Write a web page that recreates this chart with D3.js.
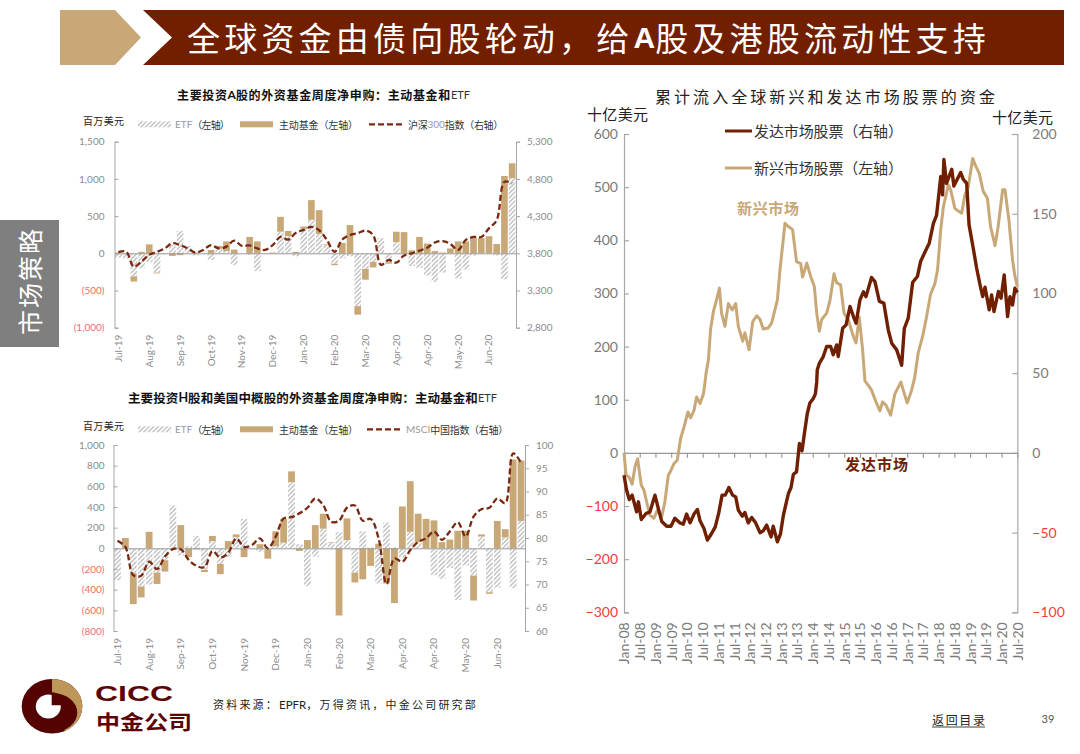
<!DOCTYPE html>
<html>
<head>
<meta charset="utf-8">
<script src="https://cdn.jsdelivr.net/npm/d3@7"></script>
<style>
  body { margin: 0; background: #fff; }
  svg { display: block; }
  text { font-family: "Noto Sans CJK SC", sans-serif; }
  .num text, text.num { font-family: Lato, "Open Sans", sans-serif; }
</style>
</head>
<body>
<svg id="page" width="1080" height="754"></svg>
<script>
// weekly flows, chart A (USD mn)
const aEtf = [-60,-70,-310,-200,-120,-260,-10,110,300,100,-30,0,-90,60,30,-160,0,-20,-240,0,0,290,230,-40,330,450,260,110,-140,-70,-40,-710,-210,-115,205,-120,150,0,-170,-195,-300,-385,-260,0,-340,-220,-30,0,0,-30,-350,1010];
const aActive = [10,0,-70,20,120,-10,0,-35,-25,0,10,0,45,40,130,50,0,220,160,0,10,200,70,20,30,265,320,10,-20,140,380,-115,-145,-75,0,-20,140,285,40,220,130,30,10,65,160,160,220,205,230,125,1040,200];
const aIndex = [3815,3825,3620,3690,3780,3820,3865,3935,3910,3865,3810,3845,3910,3865,3890,3970,3900,3905,3865,3845,3910,4020,3985,4075,4115,4155,4110,3980,3820,3985,4045,4070,4105,4045,3645,3710,3675,3770,3800,3835,3875,3945,3965,3925,3845,3980,4020,4020,4135,4245,4760,4740];

// weekly flows, chart H (USD mn)
const hEtf = [-310,0,-240,-370,-350,-235,-115,415,-70,20,120,-210,70,-150,-85,110,285,5,-35,-10,20,55,640,40,-365,-80,190,55,155,80,-235,165,10,-340,250,10,-90,160,60,0,-260,-295,-190,-500,-165,-265,115,-425,-380,105,-385,265];
const hActive = [0,100,-300,-105,160,-110,-110,0,225,-85,-10,-20,50,-100,70,25,-85,0,40,-90,145,230,105,-25,80,225,145,5,-650,210,-95,-300,-170,45,-340,-530,405,490,275,285,270,60,85,170,170,-240,20,-15,265,80,860,585];
const hIndex = [79.4,78.1,72.0,71.9,74.9,73.3,76.0,77.6,77.6,75.3,74.0,73.7,77.2,75.8,76.8,79.9,78.1,78.5,79.9,77.8,80.3,84.2,84.5,85.3,86.5,88.5,87.1,83.5,83.7,86.5,87.0,83.7,84.1,79.9,70.1,75.6,74.9,77.4,79.2,79.9,81.4,79.6,81.4,83.4,80.3,84.6,86.2,86.5,88.5,87.5,98.2,96.2];

const weekLabels = ['Jul-19','Aug-19','Sep-19','Oct-19','Nov-19','Dec-19','Jan-20','Feb-20','Mar-20','Apr-20','Apr-20','May-20','Jun-20'];

// cumulative flows, months since Jan-08 / USD bn
const emMonths = [0,0.8,2.0,3.1,4.2,5.2,5.8,6.6,7.6,8.9,9.9,11.4,12.7,14.4,15.6,16.9,17.9,19.1,20.3,21.6,22.9,24.4,25.4,26.7,27.7,29.0,30.3,30.9,31.3,32.2,33.0,34.1,35.3,36.4,37.2,38.5,39.8,41.3,42.6,43.6,45.3,46.1,47.7,49.1,50.6,51.9,53.1,55.0,56.3,58.5,59.5,61.4,62.7,64.3,65.8,67.4,68.1,69.7,71.2,72.6,73.5,74.5,75.4,77.3,78.6,80.1,81.1,82.6,83.9,85.5,87.5,88.5,89.7,91.0,91.9,93.2,94.4,96.1,97.6,98.6,99.9,101.7,103.3,105.6,106.5,108.0,109.7,110.8,112.2,113.9,115.2,116.9,118.6,119.6,120.8,121.8,123.7,124.6,126.2,127.5,128.8,130.0,131.3,133.0,134.2,135.5,137.0,138.6,139.8,141.5,142.7,144.4,145.3,146.8,148.2,149.1,150];
const emValues = [0,-42,-46,-59,-26,-11,-33,-61,-70,-98,-117,-123,-108,-120,-92,-42,-33,-20,-14,27,49,77,66,80,105,93,111,133,150,175,232,266,288,310,263,238,281,269,281,238,210,226,194,247,258,251,233,235,244,288,345,432,426,420,360,356,331,357,332,313,263,229,251,263,288,337,320,316,263,251,219,207,256,194,135,127,118,96,79,96,90,71,111,133,118,94,118,140,188,219,251,298,319,345,420,463,504,495,460,455,451,485,501,554,539,526,492,479,426,390,426,495,495,438,363,332,313];
const dmMonths = [0,1.0,2.0,3.1,4.3,4.8,5.5,6.6,8.4,9.9,11.8,13.1,14.4,16.3,17.9,19.4,21.4,22.6,23.9,25.2,26.7,28.0,29.0,30.5,31.8,33.4,34.8,36.1,37.4,38.6,40.0,41.4,42.6,43.6,45.1,46.1,47.4,48.7,50.2,51.9,53.1,54.4,56.1,56.9,58.5,59.7,60.8,61.8,62.7,63.7,64.6,65.8,66.9,67.9,68.8,69.9,70.9,72.2,73.0,73.5,73.7,74.5,76.0,77.3,78.8,79.8,81.1,81.7,83.4,84.7,86.2,87.5,88.5,90.0,91.3,92.3,94.4,95.7,97.4,99.1,100.8,102.1,104.0,105.9,106.9,108.4,110.1,111.9,113.1,114.8,116.4,118.0,119.2,120.8,121.5,122.0,123.0,125.0,125.8,128.4,129.4,130.7,131.6,133.2,134.5,135.8,136.8,137.7,139.3,140.2,141.1,142.8,143.8,145.0,146.3,147.2,148.2,149.1,150];
const dmValues = [-14,-23.4,-29.3,-26.5,-33.8,-37,-30.7,-41.8,-38,-37,-26.5,-35,-43,-46,-46,-41,-44,-44.7,-38.4,-43.9,-38.4,-35.5,-42.6,-47.4,-54.7,-50.6,-46.4,-38,-26.5,-26.5,-21.7,-26.5,-27.6,-35.9,-39.7,-37.4,-43.9,-40.5,-43.9,-50.1,-48.9,-45.3,-52.7,-46,-55.8,-50.6,-39,-31.8,-25.5,-21.7,-13.4,-11.9,5.9,1.3,12.1,24.7,31.3,34.1,37,44.5,52,56.2,60.4,66.7,66.7,61.5,67.7,60.4,78.2,80.3,91.8,85.5,81.3,96,101,98,110,107.4,95,93.9,77,68.8,64.6,55,78,84.5,107,110.6,120,126,131.5,144,149,173.3,161.8,184,169,177.9,167.4,175.8,171.6,169,143,128.3,115.8,105.3,98,103.9,89.7,99,88.6,101.2,97,111.6,85.5,98,92.8,103.3,100.5];
const halfYearLabels = ['Jan-08','Jul-08','Jan-09','Jul-09','Jan-10','Jul-10','Jan-11','Jul-11','Jan-12','Jul-12','Jan-13','Jul-13','Jan-14','Jul-14','Jan-15','Jul-15','Jan-16','Jul-16','Jan-17','Jul-17','Jan-18','Jul-18','Jan-19','Jul-19','Jan-20','Jul-20'];

const DARK = '#701f00', TAN = '#c9a877', GREY = '#8c8c8c', AXIS = '#a6a6a6', RED = '#f26d6d', MAROON = '#540202';
// full width punctuation
const COMMA = '\uFF0C', COLON = '\uFF1A', LP = '\uFF08', RP = '\uFF09';

const svg = d3.select('#page');
const defs = svg.append('defs');
defs.append('pattern')
    .attr('id', 'hatch').attr('width', 3.2).attr('height', 3.2)
    .attr('patternUnits', 'userSpaceOnUse').attr('patternTransform', 'rotate(45)')
    .call(p => p.append('rect').attr('width', 3.2).attr('height', 3.2).attr('fill', '#fff'))
    .call(p => p.append('rect').attr('width', 1.5).attr('height', 3.2).attr('fill', '#c4c4c4'));

function label(x, y, str, size, opts = {}) {
    const t = svg.append('text')
        .attr('x', x).attr('y', y)
        .attr('dominant-baseline', 'central')
        .attr('font-size', size)
        .attr('fill', opts.fill || '#222')
        .attr('font-weight', opts.weight || 400)
        .attr('text-anchor', opts.anchor || 'start')
        .text(str);
    if (opts.len) t.attr('textLength', opts.len).attr('lengthAdjust', opts.adjust || 'spacing');
    return t;
}

// CJK runs get the spacing that makes the text fit opts.width, latin runs stay tight
function mixed(x, y, parts, size, opts = {}) {
    const t = label(x, y, '', size, opts);
    const cjk = [];
    let count = 0;
    parts.forEach(p => {
        const sp = t.append('tspan').text(p.s);
        if (p.fill) sp.attr('fill', p.fill);
        if (p.latin) {
            sp.style('font-family', p.latin).attr('font-weight', p.weight || 400);
            if (p.size) sp.attr('font-size', p.size);
        } else {
            cjk.push(sp);
            count += p.s.length;
        }
    });
    if (opts.width) {
        const gap = (opts.width - t.node().getComputedTextLength()) / count;
        cjk.forEach(sp => sp.attr('letter-spacing', gap));
    }
    return t;
}

// header
svg.append('path').attr('d', 'M60,10H115L141,37.5L115,65H60Z').attr('fill', TAN);
svg.append('path').attr('d', 'M143,10H1064V65H143L172,37.5Z').attr('fill', '#721f00');
mixed(187, 37, [
    { s: '全球资金由债向股轮动' + COMMA + '给' },
    { s: 'A', latin: '"Liberation Sans"', weight: 700, size: 30 },
    { s: '股及港股流动性支持' }
], 33, { fill: '#fff', width: 803 });

// side tab
svg.append('rect').attr('x', 0).attr('y', 220).attr('width', 59).attr('height', 127).attr('fill', '#7f7f7f');
label(0, 0, '市场策略', 25, { fill: '#fff', anchor: 'middle', len: 106 })
    .attr('transform', 'translate(29,282) rotate(-90)');

// two small combo charts share this
function drawCombo(c) {
    const g = svg.append('g');
    const x = d3.scaleBand().domain(d3.range(c.etf.length)).range([c.left, c.right]).paddingInner(0.14).paddingOuter(0.07);
    const yL = d3.scaleLinear().domain(c.leftDomain).range([c.bottom, c.top]);
    const yR = d3.scaleLinear().domain(c.rightDomain).range([c.bottom, c.top]);

    const rows = c.etf.map((d, i) => ({ i, etf: d, active: c.active[i] }));
    const stack = d3.stack().keys(['etf', 'active']).offset(d3.stackOffsetDiverging)(rows);
    const fills = { etf: 'url(#hatch)', active: TAN };

    stack.forEach(layer => {
        g.append('g').selectAll('rect').data(layer).enter().append('rect')
            .attr('x', d => x(d.data.i))
            .attr('width', x.bandwidth())
            .attr('y', d => yL(Math.max(d[0], d[1])))
            .attr('height', d => Math.abs(yL(d[0]) - yL(d[1])))
            .attr('fill', fills[layer.key]);
    });

    const fmt = d => d < 0 ? '(' + d3.format(',')(-d) + ')' : d3.format(',')(d);

    const left = g.append('g').attr('class', 'num')
        .attr('transform', `translate(${c.left},0)`)
        .call(d3.axisLeft(yL).tickValues(c.leftTicks).tickFormat(fmt).tickSize(-4).tickPadding(c.padL));
    const right = g.append('g').attr('class', 'num')
        .attr('transform', `translate(${c.right},0)`)
        .call(d3.axisRight(yR).tickValues(c.rightTicks).tickFormat(c.rightFormat).tickSize(4).tickPadding(7));
    const zero = g.append('g')
        .attr('transform', `translate(0,${yL(0)})`)
        .call(d3.axisBottom(x).tickValues([]).tickSize(0).tickSizeOuter(0));
    const bottom = g.append('g').attr('class', 'num')
        .attr('transform', `translate(0,${c.bottom})`)
        .call(d3.axisBottom(x)
            .tickValues(d3.range(0, c.etf.length, 4))
            .tickFormat((d, i) => weekLabels[i])
            .tickSize(0).tickPadding(7));
    bottom.select('.domain').remove();
    bottom.selectAll('text')
        .attr('transform', 'rotate(-90)')
        .attr('text-anchor', 'end')
        .attr('x', -7).attr('y', 0).attr('dy', '0.35em');

    [left, right, zero, bottom].forEach(a => {
        a.selectAll('.domain, line').attr('stroke', AXIS).attr('stroke-width', 1);
        a.selectAll('text').attr('font-size', 10).attr('fill', GREY);
    });
    zero.select('.domain').attr('stroke', '#999');
    left.selectAll('.tick').filter(d => d < 0).select('text').attr('fill', RED);

    const line = d3.line()
        .x((d, i) => x(i) + x.bandwidth() / 2)
        .y(d => yR(d))
        .curve(d3.curveCatmullRom.alpha(0.5));
    g.append('path').datum(c.index)
        .attr('d', line)
        .attr('fill', 'none')
        .attr('stroke', '#7a2810')
        .attr('stroke-width', 2.3)
        .attr('stroke-dasharray', '6 3');

    // titles and legend
    mixed(c.titleX, c.titleY, c.title, c.titleSize, { weight: 700, fill: '#111', width: c.titleWidth });
    label(83, c.legendY - 3.5, '百万美元', 10, { fill: '#222', len: 41 });
    const ly = c.legendY;
    g.append('rect').attr('x', 138).attr('y', ly - 3).attr('width', 33).attr('height', 6).attr('fill', 'url(#hatch)');
    mixed(175, ly, [{ s: 'ETF', latin: 'Lato', fill: '#999' }, { s: LP + '左轴' + RP, fill: '#333' }], 10, { width: 54 });
    g.append('rect').attr('x', 240).attr('y', ly - 3).attr('width', 33).attr('height', 6).attr('fill', TAN);
    label(279, ly, '主动基金' + LP + '左轴' + RP, 10, { fill: '#333', len: 79 });
    g.append('line').attr('x1', c.dashX).attr('x2', c.dashX + 33).attr('y1', ly).attr('y2', ly)
        .attr('stroke', '#7a2810').attr('stroke-width', 2.3).attr('stroke-dasharray', '6 3');
    mixed(c.dashX + 39, ly, c.indexParts, 10, { width: c.indexWidth });
}

drawCombo({
    etf: aEtf, active: aActive, index: aIndex,
    left: 114.5, right: 516, top: 141.7, bottom: 327.7,
    leftDomain: [-1000, 1500], rightDomain: [2800, 5300],
    leftTicks: [-1000, -500, 0, 500, 1000, 1500],
    rightTicks: [2800, 3300, 3800, 4300, 4800, 5300],
    rightFormat: d3.format(','), padL: 10,
    title: [{ s: '主要投资' }, { s: 'A', latin: 'Lato', weight: 700 }, { s: '股的外资基金周度净申购' + COLON + '主动基金和' }, { s: 'ETF', latin: 'Lato', size: 11, fill: '#333' }],
    titleX: 177, titleY: 93.5, titleSize: 12, titleWidth: 293,
    legendY: 124.3, dashX: 369, indexWidth: 95,
    indexParts: [{ s: '沪深', fill: '#333' }, { s: '300', latin: 'Lato', fill: '#999' }, { s: '指数' + LP + '右轴' + RP, fill: '#333' }]
});

drawCombo({
    etf: hEtf, active: hActive, index: hIndex,
    left: 113.5, right: 525, top: 445, bottom: 631,
    leftDomain: [-800, 1000], rightDomain: [60, 100],
    leftTicks: [-800, -600, -400, -200, 0, 200, 400, 600, 800, 1000],
    rightTicks: [60, 65, 70, 75, 80, 85, 90, 95, 100],
    rightFormat: d3.format('d'), padL: 9,
    title: [{ s: '主要投资' }, { s: 'H', latin: 'Lato', weight: 700 }, { s: '股和美国中概股的外资基金周度净申购' + COLON + '主动基金和' }, { s: 'ETF', latin: 'Lato', size: 11, fill: '#333' }],
    titleX: 128, titleY: 397, titleSize: 12.5, titleWidth: 369,
    legendY: 429.3, dashX: 367, indexWidth: 102,
    indexParts: [{ s: 'MSCI', latin: 'Lato', fill: '#999' }, { s: '中国指数' + LP + '右轴' + RP, fill: '#333' }]
});

// cumulative flow chart
const bigL = 624, bigR = 1017.3, bigT = 134, bigB = 612.3;
const xBig = d3.scaleLinear().domain([0, 150]).range([bigL, bigR]);
const yEm = d3.scaleLinear().domain([-300, 600]).range([bigB, bigT]);
const yDm = d3.scaleLinear().domain([-100, 200]).range([bigB, bigT]);

const bigLeft = svg.append('g').attr('class', 'num').attr('transform', `translate(${bigL},0)`)
    .call(d3.axisLeft(yEm).tickValues(d3.range(-300, 601, 100)).tickFormat(d3.format('d')).tickSize(-5).tickPadding(6));
const bigRight = svg.append('g').attr('class', 'num').attr('transform', `translate(${bigR},0)`)
    .call(d3.axisRight(yDm).tickValues(d3.range(-100, 201, 50)).tickFormat(d3.format('d')).tickSize(-5).tickPadding(15));
const bigZero = svg.append('g').attr('transform', `translate(0,${yEm(0)})`)
    .call(d3.axisBottom(xBig).tickValues(d3.range(0, 151, 6)).tickFormat('').tickSize(5).tickSizeOuter(0));
const bigBottom = svg.append('g').attr('class', 'num').attr('transform', `translate(0,${bigB})`)
    .call(d3.axisBottom(xBig).tickValues(d3.range(0, 151, 6)).tickFormat((d, i) => halfYearLabels[i]).tickSize(0));
bigBottom.select('.domain').remove();
bigBottom.selectAll('text')
    .attr('transform', 'rotate(-90)')
    .attr('text-anchor', 'end')
    .attr('x', -10).attr('y', 0).attr('dy', '0.35em');

[bigLeft, bigRight, bigZero, bigBottom].forEach(a => {
    a.selectAll('.domain, line').attr('stroke', AXIS).attr('stroke-width', 1.2);
    a.selectAll('text').attr('font-size', 14).attr('fill', '#7a7a7a');
});
bigZero.selectAll('.domain, line').attr('stroke', '#999');
[bigLeft, bigRight].forEach(a => {
    a.selectAll('.tick').filter(d => d < 0).select('text').attr('fill', '#f23c3c');
});

const emLine = d3.line().x((d, i) => xBig(emMonths[i])).y(d => yEm(d));
const dmLine = d3.line().x((d, i) => xBig(dmMonths[i])).y(d => yDm(d));
svg.append('path').datum(emValues).attr('d', emLine)
    .attr('fill', 'none').attr('stroke', TAN).attr('stroke-width', 3).attr('stroke-linejoin', 'round');
svg.append('path').datum(dmValues).attr('d', dmLine)
    .attr('fill', 'none').attr('stroke', DARK).attr('stroke-width', 3.4).attr('stroke-linejoin', 'round');

label(655, 96, '累计流入全球新兴和发达市场股票的资金', 16, { fill: '#222', len: 340 });
label(587, 113, '十亿美元', 15, { fill: '#222', len: 61 });
label(992, 116, '十亿美元', 15, { fill: '#222', len: 61 });
svg.append('line').attr('x1', 725).attr('x2', 752).attr('y1', 131).attr('y2', 131).attr('stroke', DARK).attr('stroke-width', 3);
label(754, 130, '发达市场股票' + LP + '右轴' + RP, 15, { fill: '#333', len: 149 });
svg.append('line').attr('x1', 725).attr('x2', 752).attr('y1', 168).attr('y2', 168).attr('stroke', TAN).attr('stroke-width', 3);
label(754, 167, '新兴市场股票' + LP + '左轴' + RP, 15, { fill: '#333', len: 149 });
label(737, 207, '新兴市场', 15, { fill: TAN, weight: 700, len: 62 });
label(845, 463, '发达市场', 15, { fill: DARK, weight: 700, len: 63 });

// footer: logo and notes
const logo = svg.append('g').attr('transform', 'translate(52,706.3)');
logo.append('ellipse').attr('rx', 30.3).attr('ry', 27.3).attr('fill', MAROON);
logo.append('path')
    .attr('d', d3.arc()({ innerRadius: 0, outerRadius: 27.3, startAngle: 0, endAngle: 2.7 }))
    .attr('transform', 'scale(1.11,1)')
    .attr('fill', '#bd9759');
logo.append('ellipse').attr('cx', 1.3).attr('cy', 6.3).attr('rx', 24).attr('ry', 19.3).attr('fill', MAROON);
logo.append('ellipse').attr('cx', -3.7).attr('cy', 0.3).attr('rx', 12.5).attr('ry', 12).attr('fill', '#fff');
logo.append('path')
    .attr('d', d3.arc()({ innerRadius: 0, outerRadius: 13, startAngle: 0, endAngle: Math.PI / 2 }))
    .attr('transform', 'translate(-0.3,-1)')
    .attr('fill', MAROON);
label(95, 693.5, 'CICC', 22, { fill: '#5b0505', weight: 700, len: 78, adjust: 'spacingAndGlyphs' }).style('font-family', '"Liberation Sans"');
label(96, 721, '中金公司', 20, { fill: '#5b0505', weight: 700, len: 96, adjust: 'spacingAndGlyphs' });

mixed(213, 704, [
    { s: '资料来源' + COLON },
    { s: 'EPFR', latin: 'Lato', size: 11.5 },
    { s: COMMA + '万得资讯' + COMMA + '中金公司研究部' }
], 11, { fill: '#222', width: 265 });
label(932, 719.5, '返回目录', 12, { fill: '#222', len: 53 });
svg.append('line').attr('x1', 932).attr('x2', 985).attr('y1', 727).attr('y2', 727).attr('stroke', '#444').attr('stroke-width', 1);
label(1041.5, 718, '39', 11, { fill: '#555' }).attr('class', 'num');
</script>
</body>
</html>
